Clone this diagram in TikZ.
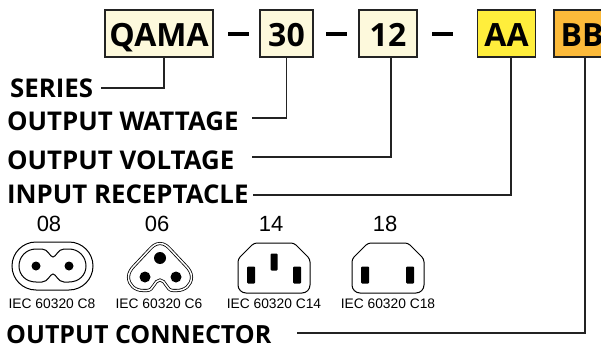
\documentclass[tikz,border=0pt]{standalone}
\usepackage{fontspec}
\setmainfont{Open Sans}
\newfontfamily\iecfont{Liberation Sans}
\usetikzlibrary{positioning}
\definecolor{boxCream}{RGB}{253,249,220}
\definecolor{boxYellow}{RGB}{255,238,60}
\definecolor{boxOrange}{RGB}{252,186,58}
\definecolor{lineDark}{RGB}{35,35,35}

\begin{document}
\begin{tikzpicture}[
    x=1pt, y=-1pt,
    partBox/.style={rectangle, draw=lineDark, line width=1.2pt, minimum height=47pt, inner sep=0pt, text height=27pt, text depth=0pt, font=\bfseries\fontsize{32}{32}\selectfont},
    dashBar/.style={rectangle, fill=black, minimum width=21pt, minimum height=3.6pt, inner sep=0pt},
    fieldLabel/.style={anchor=base west, inner sep=0pt, font=\bfseries\fontsize{25.8}{26}\selectfont},
    codeLabel/.style={inner sep=0pt, font=\iecfont\fontsize{22}{22}\selectfont},
    iecLabel/.style={inner sep=0pt, font=\iecfont\fontsize{13.8}{14}\selectfont},
    connLine/.style={draw=lineDark, line width=1.1pt},
    plugLine/.style={draw=black, line width=1pt},
    bladeNode/.style={rectangle, rounded corners=1pt, fill=black, inner sep=0pt, minimum width=8pt, minimum height=17pt},
    holeNode/.style={circle, fill=black, inner sep=0pt},
    inletBody/.pic={
        \draw [plugLine, rounded corners=3pt] (16,0) -- (56,0) -- (72,16) [rounded corners=8pt] -- (72,50) -- (0,50) [rounded corners=3pt] -- (0,16) -- cycle;
    }
]
\useasboundingbox (0,0) rectangle (601,347);

% Boxes
\node (qama) [partBox, fill=boxCream, minimum width=108pt] at (159,33.5) {QAMA};
\node (wattage) [partBox, fill=boxCream, minimum width=53pt] at (286.5,33.5) {30};
\node (voltage) [partBox, fill=boxCream, minimum width=58pt] at (388,33.5) {12};
\node (receptacle) [partBox, fill=boxYellow, minimum width=58pt] at (506.5,33.5) {AA};
\node (connector) [partBox, fill=boxOrange, minimum width=56pt] at (582,33.5) {BB};
\node (dashA) [dashBar] at (238.5,34) {};
\node (dashB) [dashBar] at (336,34) {};
\node (dashC) [dashBar] at (442.5,34) {};

% Labels
\node (seriesText) [fieldLabel] at (10,98) {SERIES};
\node (wattageText) [fieldLabel] at (7,131) {OUTPUT WATTAGE};
\node (voltageText) [fieldLabel] at (7,170) {OUTPUT VOLTAGE};
\node (receptacleText) [fieldLabel] at (7,204) {INPUT RECEPTACLE};
\node (connectorText) [fieldLabel, font=\bfseries\fontsize{25}{26}\selectfont] at (6,343.5) {OUTPUT CONNECTOR};

% Connectors
\coordinate (seriesEnd) at (101,88);
\coordinate (wattageEnd) at (252,118);
\coordinate (voltageEnd) at (252,157);
\coordinate (receptacleEnd) at (253,195);
\coordinate (connectorEnd) at (297,333);
\draw [connLine] (seriesEnd) -| ([xshift=5pt]qama.south);
\draw [connLine] (wattageEnd) -| (wattage.south);
\draw [connLine] (voltageEnd) -| ([xshift=3pt]voltage.south);
\draw [connLine] (receptacleEnd) -| ([xshift=4.5pt]receptacle.south);
\draw [connLine] (connectorEnd) -| ([xshift=3pt]connector.south);

% Codes
\node (code08) [codeLabel] at (49,224) {08};
\node (code06) [codeLabel] at (157,224) {06};
\node (code14) [codeLabel] at (271,224) {14};
\node (code18) [codeLabel] at (385,224) {18};
\node (iec08) [iecLabel] at (52,304) {IEC 60320 C8};
\node (iec06) [iecLabel] at (159,304) {IEC 60320 C6};
\node (iec14) [iecLabel] at (274,304) {IEC 60320 C14};
\node (iec18) [iecLabel] at (388,304) {IEC 60320 C18};

% C8
\draw [plugLine, rounded corners=24pt] (12,242) rectangle (93,290);
\draw [plugLine] (53,257) .. controls (50,257) and (48,249) .. (42,249) -- (36,249) .. controls (26,249) and (19,257) .. (19,266) .. controls (19,275) and (26,282) .. (36,282) -- (42,282) .. controls (48,282) and (50,274) .. (53,274) .. controls (56,274) and (58,282) .. (64,282) -- (69,282) .. controls (79,282) and (86,275) .. (86,266) .. controls (86,257) and (79,249) .. (69,249) -- (64,249) .. controls (58,249) and (56,257) .. (53,257) -- cycle;
\node [holeNode, minimum size=9pt] at (36,266) {};
\node [holeNode, minimum size=9pt] at (69,266) {};

% C6
\draw [draw=black, line width=0.8pt, double=white, double distance=1.5pt] (160,243.5) .. controls (165,243.5) and (168,247) .. (170,249) -- (186,266) .. controls (189,269) and (191.5,273) .. (191.5,277) .. controls (191.5,285) and (185,290.5) .. (177,290.5) -- (173,290.5) .. controls (166,290.5) and (166,280) .. (160,280) .. controls (154,280) and (154,290.5) .. (147,290.5) -- (143,290.5) .. controls (135,290.5) and (128.5,285) .. (128.5,277) .. controls (128.5,273) and (131,269) .. (134,266) -- (150,249) .. controls (152,247) and (155,243.5) .. (160,243.5) -- cycle;
\node [holeNode, minimum size=12pt] at (160,258) {};
\node [holeNode, minimum size=11pt] at (145,277) {};
\node [holeNode, minimum size=11pt] at (176,277) {};

% C14
\pic at (238,243) {inletBody};
\node [bladeNode, minimum width=7pt] at (274,262) {};
\node [bladeNode] at (251,275) {};
\node [bladeNode] at (297,275) {};

% C18
\pic at (352,243) {inletBody};
\node [bladeNode] at (365,275) {};
\node [bladeNode] at (410,275) {};

\end{tikzpicture}
\end{document}
